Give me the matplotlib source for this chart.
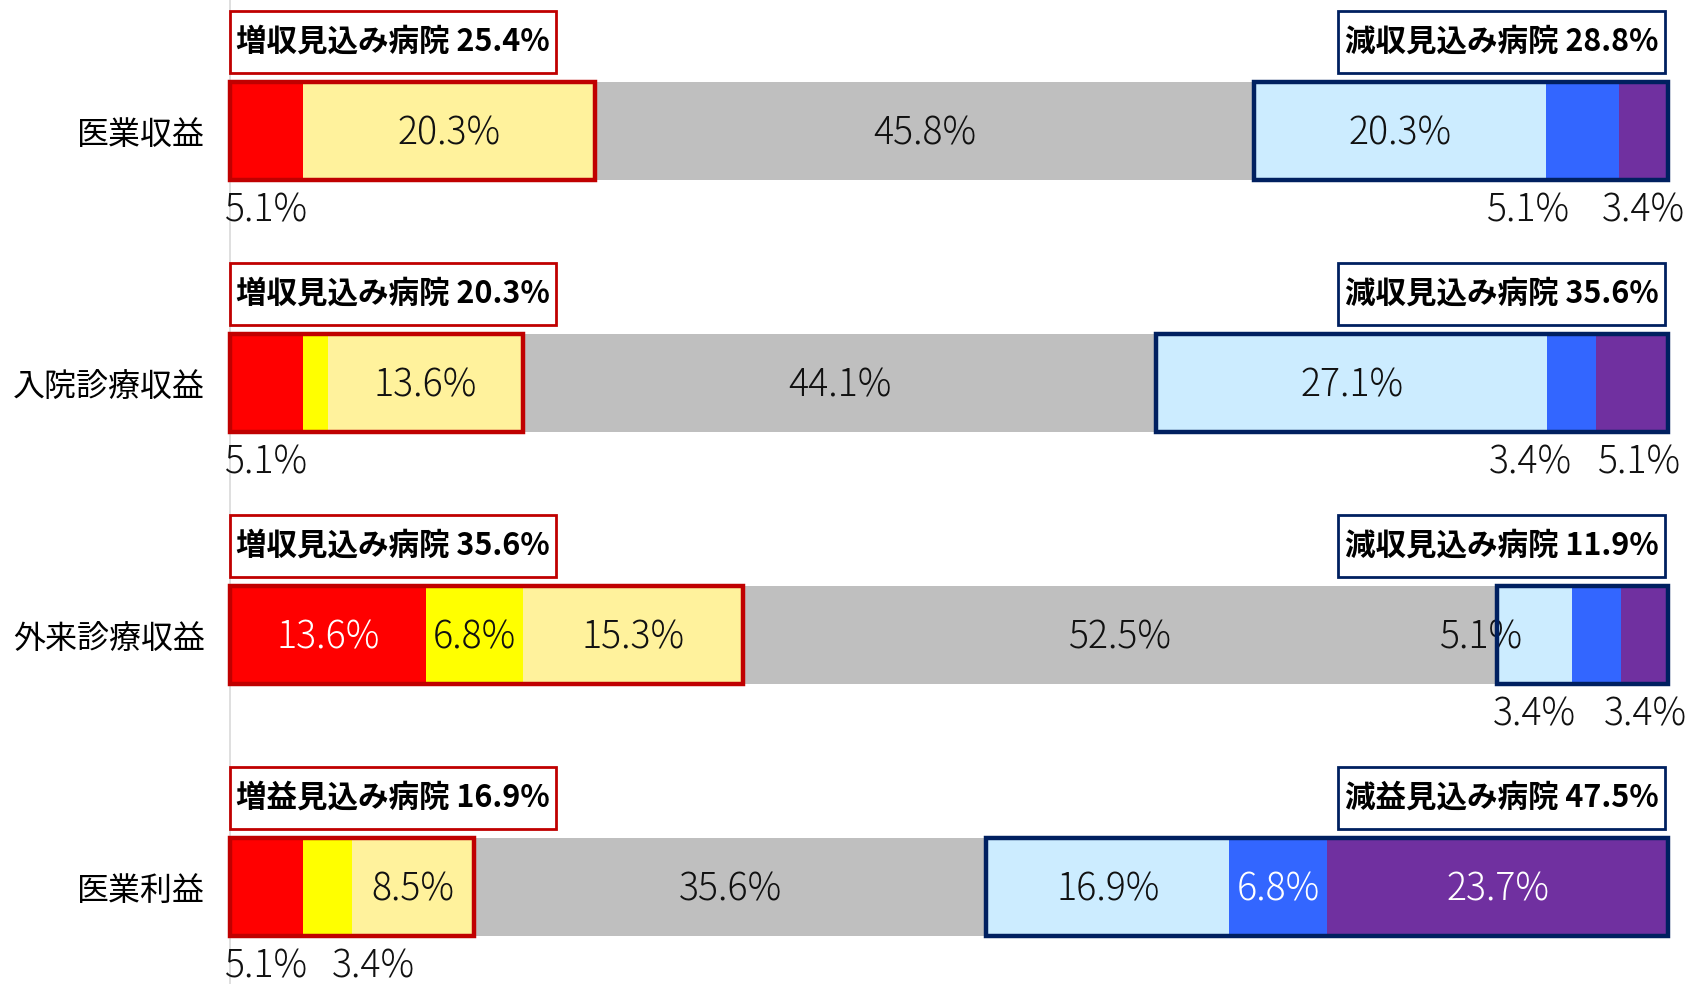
import matplotlib.pyplot as plt
from matplotlib.patches import Rectangle
import numpy as np

plt.rcParams['font.family'] = ['Noto Sans CJK JP', 'DejaVu Sans']

categories = ['医業収益', '入院診療収益', '外来診療収益', '医業利益']
# 大幅増, 増, やや増, 横ばい, やや減, 減, 大幅減
red = [5.1, 5.1, 13.6, 5.1]
yellow = [0.0, 1.7, 6.8, 3.4]
light_yellow = [20.3, 13.6, 15.3, 8.5]
gray = [45.8, 44.1, 52.5, 35.6]
light_blue = [20.3, 27.1, 5.1, 16.9]
blue = [5.1, 3.4, 3.4, 6.8]
purple = [3.4, 5.1, 3.4, 23.7]
up_labels = ['増収見込み病院 25.4%', '増収見込み病院 20.3%', '増収見込み病院 35.6%', '増益見込み病院 16.9%']
down_labels = ['減収見込み病院 28.8%', '減収見込み病院 35.6%', '減収見込み病院 11.9%', '減益見込み病院 47.5%']

series = [red, yellow, light_yellow, gray, light_blue, blue, purple]
colors = ['#FF0000', '#FFFF00', '#FFF29C', '#BFBFBF', '#CCECFF', '#3366FF', '#7030A0']

# label placement: 'in' / 'below' / None, text colour, x nudge in px
place = [
    [('below', 'k', 0), None, ('in', 'k', 0), ('in', 'k', 0), ('in', 'k', 0), ('below', 'k', -54), ('below', 'k', 0)],
    [('below', 'k', 0), None, ('in', 'k', 0), ('in', 'k', 0), ('in', 'k', 0), ('below', 'k', -41), ('below', 'k', 7)],
    [('in', 'w', 0), ('in', 'k', 0), ('in', 'k', 0), ('in', 'k', 0), ('in', 'k', -53), ('below', 'k', -62), ('below', 'k', 0)],
    [('below', 'k', 0), ('below', 'k', 46), ('in', 'k', 0), ('in', 'k', 0), ('in', 'k', 0), ('in', 'w', 0), ('in', 'w', 0)],
]

fig = plt.figure(figsize=(16.9, 9.84), dpi=100)
ax = fig.add_axes([230 / 1690, 0, 1438 / 1690, 1])
px = 100 / 1438  # data units per pixel

y = np.arange(len(categories))
h = 0.39
left = np.zeros(len(categories))
for vals, c in zip(series, colors):
    ax.barh(y, vals, left=left, height=h, color=c, linewidth=0)
    left += np.array(vals)

num_font = dict(fontsize=27, fontweight='light', family=['Noto Sans CJK JP', 'DejaVu Sans'])
for i in range(len(categories)):
    start = 0
    for j, vals in enumerate(series):
        v = vals[i]
        p = place[i][j]
        if p is not None and v > 0:
            kind, tc, dx = p
            xc = start + v / 2 + dx * px
            color = 'white' if tc == 'w' else '#111111'
            if kind == 'in':
                ax.text(xc, y[i] + 0.012, f'{v:.1f}%', ha='center', va='center', color=color, **num_font)
            else:
                ax.text(xc, y[i] + 0.315, f'{v:.1f}%', ha='center', va='center', color=color, **num_font)
        start += v

    up = red[i] + yellow[i] + light_yellow[i]
    down = light_blue[i] + blue[i] + purple[i]
    ax.add_patch(Rectangle((0, y[i] - h / 2), up, h, fill=False, edgecolor='#C00000',
                           linewidth=3.2, clip_on=False, zorder=5))
    ax.add_patch(Rectangle((100 - down, y[i] - h / 2), down, h, fill=False, edgecolor='#002060',
                           linewidth=3.2, clip_on=False, zorder=5))

    # header boxes
    bh = 0.245
    by = y[i] - 0.353
    ax.add_patch(Rectangle((0, by - bh / 2), 326 * px, bh, facecolor='white', edgecolor='#C00000',
                           linewidth=2, clip_on=False, zorder=5))
    ax.text(163 * px, by, up_labels[i], ha='center', va='center', fontsize=22,
            fontweight='bold', zorder=6)
    ax.add_patch(Rectangle((1108 * px, by - bh / 2), 327 * px, bh, facecolor='white', edgecolor='#002060',
                           linewidth=2, clip_on=False, zorder=5))
    ax.text(1271.5 * px, by, down_labels[i], ha='center', va='center', fontsize=22,
            fontweight='bold', zorder=6)

ax.set_xlim(0, 100)
ax.set_ylim(3.385, -0.52)
ax.set_yticks(y)
ax.set_yticklabels(categories, fontsize=23)
ax.tick_params(axis='y', length=0, pad=18)
ax.set_xticks([])
for s in ['top', 'right', 'bottom']:
    ax.spines[s].set_visible(False)
ax.spines['left'].set_color('#D9D9D9')
ax.spines['left'].set_linewidth(1.2)

plt.savefig('out.png', dpi=100)
